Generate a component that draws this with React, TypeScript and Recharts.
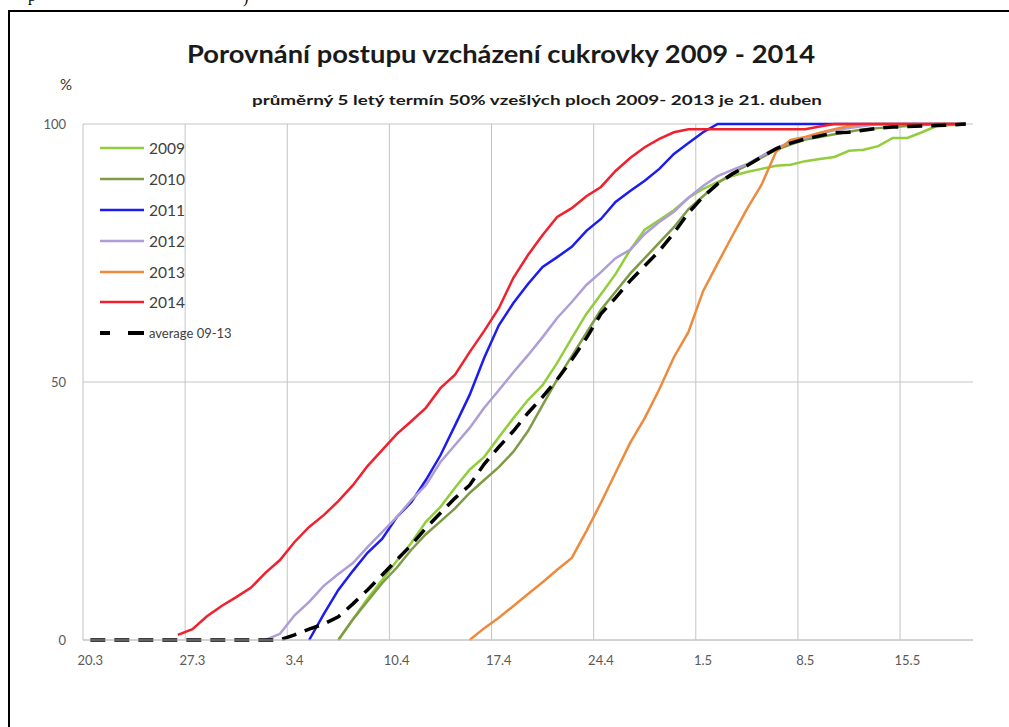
import React from "react";
import { LineChart, Line, XAxis, YAxis, CartesianGrid, Legend } from "recharts";

const FONT = "Lato, 'Open Sans', sans-serif";

// one category per day, 20.3. – 19.5.
const DAYS = [
  "20.3", "21.3", "22.3", "23.3", "24.3", "25.3", "26.3", "27.3", "28.3", "29.3", "30.3", "31.3",
  "1.4", "2.4", "3.4", "4.4", "5.4", "6.4", "7.4", "8.4", "9.4", "10.4",
  "11.4", "12.4", "13.4", "14.4", "15.4", "16.4", "17.4", "18.4", "19.4", "20.4",
  "21.4", "22.4", "23.4", "24.4", "25.4", "26.4", "27.4", "28.4", "29.4", "30.4",
  "1.5", "2.5", "3.5", "4.5", "5.5", "6.5", "7.5", "8.5", "9.5", "10.5",
  "11.5", "12.5", "13.5", "14.5", "15.5", "16.5", "17.5", "18.5", "19.5",
];

const Y_TICKS = [0, 50, 100];

const _ = null;

const V2009 = [
  _, _, _, _, _, _, _, _, _, _, _, _, _, _, _, _, _,
  0, 4, 8, 11.6, 15.3, 18.8, 22.9, 25.8, 29.5, 33, 35.5, 39.3, 43, 46.5, 49.4, 53.7,
  58.5, 63.2, 67, 70.9, 75.6, 79.5, 81.4, 83.3, 85.7, 87.4, 88.8, 89.9, 90.7, 91.3,
  91.9, 92.1, 92.8, 93.2, 93.6, 94.8, 95, 95.7, 97.3, 97.3, 98.4, 99.6, 99.8, 100,
];

const V2010 = [
  _, _, _, _, _, _, _, _, _, _, _, _, _, _, _, _, _,
  0, 4, 7.5, 11, 14, 17.5, 20.5, 23, 25.5, 28.5, 31, 33.5, 36.5, 40.5, 45.5, 50.5,
  55, 59.5, 64, 67.5, 71, 74, 77, 80, 83.5, 86, 88.5, 90.5, 92, 93.5,
  95, 96, 97, 97.5, 98, 98.5, 99, 99.2, 99.4, 99.6, 99.8, 100, 100, 100,
];

const V2011 = [
  _, _, _, _, _, _, _, _, _, _, _, _, _, _, _,
  0, 5, 9.7, 13.4, 16.9, 19.6, 23.8, 26.7, 31, 35.8, 41.6, 47.5, 54.7, 61, 65.3, 69,
  72.3, 74.2, 76.2, 79.3, 81.6, 84.9, 87, 89, 91.3, 94.2, 96.3, 98.4, 100, 100, 100,
  100, 100, 100, 100, 100, 100, 100, 100, 100, 100, 100, 100, 100, 100, 100, 100,
];

const V2012 = [
  _, _, _, _, _, _, _, _, _, _, _, _,
  0, 1.2, 4.8, 7.4, 10.5, 12.8, 14.9, 18, 20.9, 23.8, 27.1, 30, 34.5, 37.8, 41.1,
  45, 48.4, 51.9, 55.2, 58.7, 62.4, 65.5, 68.8, 71.3, 74, 75.6, 78.7, 81, 83, 85.7,
  88, 89.9, 91.1, 92.2, 93.8, 95.3, 96.5, 97.3, 98.1, 98.8, 99.2, 99.6,
  100, 100, 100, 100, 100, 100, 100,
];

const V2013 = [
  _, _, _, _, _, _, _, _, _, _, _, _, _, _, _, _, _, _, _, _, _, _, _, _, _, _,
  0, 2.3, 4.3, 6.6, 8.9, 11.2, 13.6, 15.9, 21.1, 26.6, 32.4, 38.2, 43, 48.6, 54.8,
  59.7, 67.6, 73, 78.3, 83.5, 88.2, 94.6, 96.9, 97.5, 98.3, 99, 99.6,
  100, 100, 100, 100, 100, 100, 100, 100,
];

const V2014 = [
  _, _, _, _, _, _,
  1, 2.1, 4.6, 6.6, 8.3, 10.1, 13, 15.5, 19, 21.9, 24.2, 26.9, 30, 33.7, 36.8, 39.9,
  42.4, 45, 48.8, 51.4, 55.8, 59.9, 64.3, 70.2, 74.6, 78.5, 82, 83.7, 86, 87.8, 90.9,
  93.4, 95.5, 97.1, 98.4, 99, 99, 99, 99, 99, 99, 99, 99, 99, 99.5,
  100, 100, 100, 100, 100, 100, 100, 100, 100, 100,
];

const VAVG = [
  0, 0, 0, 0, 0, 0, 0, 0, 0, 0, 0, 0, 0, 0,
  1, 2.1, 3.1, 4.5, 7, 9.7, 12.6, 15.5, 18.4, 21.7, 24.6, 27.5, 30, 34.1, 37.4, 40.5,
  44, 47.1, 50.5, 54.3, 58.5, 63.2, 66.3, 69.6, 72.5, 75.4, 78.9, 82.8, 85.9, 88.4,
  90.3, 91.9, 93.6, 95.2, 96.3, 97.1, 97.7, 98.3, 98.4, 98.8, 99.2, 99.4, 99.5, 99.6,
  99.7, 99.8, 100,
];

const SERIES = [
  { key: "y2009", name: "2009", color: "#92CD3C", width: 2.5, dash: "" },
  { key: "y2010", name: "2010", color: "#7E9C45", width: 2.5, dash: "" },
  { key: "y2011", name: "2011", color: "#1C1CF0", width: 2.5, dash: "" },
  { key: "y2012", name: "2012", color: "#AE9DD6", width: 2.5, dash: "" },
  { key: "y2013", name: "2013", color: "#EE8A3E", width: 2.5, dash: "" },
  { key: "y2014", name: "2014", color: "#F0202C", width: 2.5, dash: "" },
  { key: "avg", name: "average 09-13", color: "#000000", width: 3.5, dash: "15 9" },
];

const data = DAYS.map((day, i) => ({
  day,
  y2009: V2009[i],
  y2010: V2010[i],
  y2011: V2011[i],
  y2012: V2012[i],
  y2013: V2013[i],
  y2014: V2014[i],
  avg: VAVG[i],
}));

// vertical gridlines sit on the boundary before every 7th day
const GRID_AT = DAYS.map((_d, i) => i).filter((i) => i > 0 && i % 7 === 0);

function LegendBox() {
  return (
    <div style={{ fontFamily: FONT }}>
      {SERIES.map((s) => (
        <div key={s.key} style={{ height: 30.8, display: "flex", alignItems: "center" }}>
          <svg width={46} height={8} style={{ display: "block" }}>
            <line
              x1={1} y1={4} x2={45} y2={4}
              stroke={s.color}
              strokeWidth={s.dash ? 4 : 2.5}
              strokeDasharray={s.dash ? "10 18 17" : undefined}
            />
          </svg>
          <span style={{ marginLeft: 4, fontSize: s.dash ? 13 : 15.5, color: "#404040" }}>{s.name}</span>
        </div>
      ))}
    </div>
  );
}

export default function App() {
  const tick = { fontSize: 13, fill: "#595959", fontFamily: FONT };
  return (
    <div style={{ position: "fixed", left: 0, top: 0, width: 1009, height: 727, overflow: "hidden", background: "#fff" }}>
      {/* cut-off text from the page above */}
      <div style={{ position: "absolute", left: 28, top: -13, fontFamily: "'Liberation Serif', serif", fontSize: 16, lineHeight: "18px" }}>p</div>
      <div style={{ position: "absolute", left: 243, top: -11, fontFamily: "'Liberation Serif', serif", fontSize: 16, lineHeight: "18px" }}>)</div>
      {/* frame: top and left edges only */}
      <div style={{ position: "absolute", left: 8, top: 10, width: 1001, height: 2, background: "#000" }} />
      <div style={{ position: "absolute", left: 8, top: 10, width: 2, height: 717, background: "#000" }} />

      <div style={{ position: "absolute", left: 0, top: 0 }}>
        <LineChart width={1000} height={727} data={data} margin={{ top: 124, right: 27, bottom: 57, left: 23 }}>
          <CartesianGrid
            stroke="#C4C4C4"
            verticalCoordinatesGenerator={({ offset }: any) =>
              GRID_AT.map((i) => offset.left + (offset.width * i) / DAYS.length)
            }
          />
          <XAxis
            dataKey="day"
            scale="band"
            interval={6}
            height={30}
            tickLine={false}
            tickSize={8}
            tickMargin={8}
            axisLine={{ stroke: "#C4C4C4" }}
            tick={tick}
          />
          <YAxis
            domain={[0, 100]}
            ticks={Y_TICKS}
            width={60}
            tickLine={false}
            tickSize={8}
            tickMargin={9}
            axisLine={{ stroke: "#C4C4C4" }}
            tick={tick}
          />
          <Legend
            layout="vertical"
            align="center"
            verticalAlign="middle"
            wrapperStyle={{ left: 99, top: 133, width: 180 }}
            content={() => <LegendBox />}
          />
          {SERIES.map((s) => (
            <Line
              key={s.key}
              dataKey={s.key}
              name={s.name}
              type="linear"
              stroke={s.color}
              strokeWidth={s.width}
              strokeDasharray={s.dash || undefined}
              dot={false}
              activeDot={false}
              isAnimationActive={false}
            />
          ))}
        </LineChart>
      </div>

      <svg width={1000} height={727} style={{ position: "absolute", left: 0, top: 0, pointerEvents: "none" }}>
        <text x={501} y={63} textAnchor="middle" fontFamily={FONT} fontSize={24} fontWeight={700} fill="#1a1a1a" textLength={628} lengthAdjust="spacingAndGlyphs">
          Porovnání postupu vzcházení cukrovky 2009 - 2014
        </text>
        <text x={60} y={90} fontFamily={FONT} fontSize={15} fill="#333">%</text>
        <text x={537} y={105} textAnchor="middle" fontFamily={FONT} fontSize={14} fontWeight={700} fill="#1a1a1a" textLength={570} lengthAdjust="spacingAndGlyphs">
          průměrný 5 letý termín 50% vzešlých  ploch 2009- 2013 je 21. duben
        </text>
      </svg>
    </div>
  );
}
